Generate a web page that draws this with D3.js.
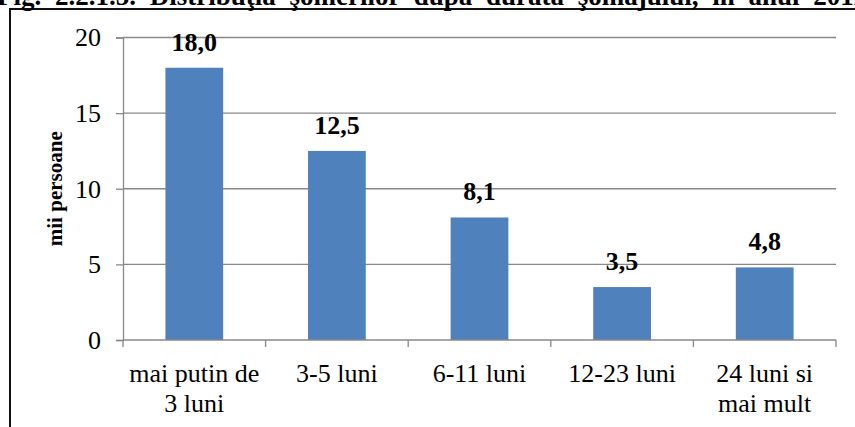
<!DOCTYPE html>
<html>
<head>
<meta charset="utf-8">
<script src="https://cdn.jsdelivr.net/npm/d3@7"></script>
<style>
  body { margin: 0; background: #fff; }
</style>
</head>
<body>
<div id="chart"></div>
<script>
// data
const categories = ["mai putin de 3 luni", "3-5 luni", "6-11 luni", "12-23 luni", "24 luni si mai mult"]
const values = [18.0, 12.5, 8.1, 3.5, 4.8]
const yTicks = [0, 5, 10, 15, 20]
const title = "Fig. 2.2.1.5. Distribuţia şomerilor după durata şomajului, în anul 2011"
const yTitle = "mii persoane"

const width = 855
const height = 427
const margin = {top: 37.5, right: 19, bottom: 87, left: 123}
const font = "Liberation Serif"

const svg = d3.select("#chart")
    .append("svg")
    .attr("width", width)
    .attr("height", height)
    .attr("font-family", font)

// frame of the figure (cut by the picture on right and bottom)
svg.append("path")
    .attr("d", `M10,${height + 5} L10,9 L${width + 5},9`)
    .attr("fill", "none")
    .attr("stroke", "#111")
    .attr("stroke-width", 2)

// caption above the frame, only its lower half is in the picture
svg.append("text")
    .attr("x", -3)
    .attr("y", 5)
    .attr("font-size", 27)
    .attr("font-weight", "bold")
    .attr("word-spacing", 7)
    .text(title)

const x = d3.scaleBand()
    .domain(categories)
    .range([margin.left, width - margin.right])
    .paddingInner(0.595)
    .paddingOuter(0.2975)

const y = d3.scaleLinear()
    .domain([0, 20])
    .range([height - margin.bottom, margin.top])

// gridlines
svg.append("g")
    .selectAll("line")
    .data(yTicks.filter(d => d > 0))
    .enter().append("line")
    .attr("x1", margin.left)
    .attr("x2", width - margin.right)
    .attr("y1", d => y(d))
    .attr("y2", d => y(d))
    .attr("stroke", "#888")
    .attr("stroke-width", 1.3)

// y axis
const yAxis = svg.append("g")
    .attr("transform", `translate(${margin.left},0)`)
    .call(d3.axisLeft(y).tickValues(yTicks).tickSize(7).tickPadding(15).tickFormat(d3.format("d")))
yAxis.attr("font-family", font).attr("font-size", 26)
yAxis.select(".domain").attr("stroke", "#888").attr("stroke-width", 1.3)
yAxis.selectAll(".tick line").attr("stroke", "#888").attr("stroke-width", 1.3)
yAxis.selectAll(".tick text").attr("fill", "#000")

svg.append("text")
    .attr("transform", `translate(62,${(y(0) + y(20)) / 2}) rotate(-90)`)
    .attr("text-anchor", "middle")
    .attr("font-size", 21)
    .attr("font-weight", "bold")
    .text(yTitle)

// bars
svg.append("g")
    .selectAll("rect")
    .data(values)
    .enter().append("rect")
    .attr("x", (d, i) => x(categories[i]))
    .attr("width", x.bandwidth())
    .attr("y", d => y(d))
    .attr("height", d => y(0) - y(d))
    .attr("fill", "#4F81BD")

// value labels
svg.append("g")
    .selectAll("text")
    .data(values)
    .enter().append("text")
    .attr("x", (d, i) => x(categories[i]) + x.bandwidth() / 2)
    .attr("y", d => y(d) - 17)
    .attr("text-anchor", "middle")
    .attr("font-size", 26)
    .attr("font-weight", "bold")
    .text(d => d3.format(".1f")(d).replace(".", ","))

// x axis: line with ticks between categories
const step = x.step()
const xAxis = svg.append("g")
const y0 = y(0)
xAxis.append("line")
    .attr("x1", margin.left)
    .attr("x2", width - margin.right)
    .attr("y1", y0)
    .attr("y2", y0)
    .attr("stroke", "#888")
    .attr("stroke-width", 1.3)
xAxis.selectAll(".sep")
    .data(d3.range(categories.length + 1))
    .enter().append("line")
    .attr("class", "sep")
    .attr("x1", i => margin.left + i * step)
    .attr("x2", i => margin.left + i * step)
    .attr("y1", y0)
    .attr("y2", y0 + 7)
    .attr("stroke", "#888")
    .attr("stroke-width", 1.3)

const labels = xAxis.selectAll(".lab")
    .data(categories)
    .enter().append("text")
    .attr("class", "lab")
    .attr("text-anchor", "middle")
    .attr("font-size", 26)
    .attr("y", y0 + 42)

labels.each(function(d) {
    const el = d3.select(this)
    const cx = x(d) + x.bandwidth() / 2
    const words = d.split(" ")
    let line = []
    let tspan = el.append("tspan").attr("x", cx).attr("dy", 0)
    words.forEach(w => {
        line.push(w)
        tspan.text(line.join(" "))
        if (tspan.node().getComputedTextLength() > 135 && line.length > 1) {
            line.pop()
            tspan.text(line.join(" "))
            line = [w]
            tspan = el.append("tspan").attr("x", cx).attr("dy", 30).text(w)
        }
    })
})
</script>
</body>
</html>
